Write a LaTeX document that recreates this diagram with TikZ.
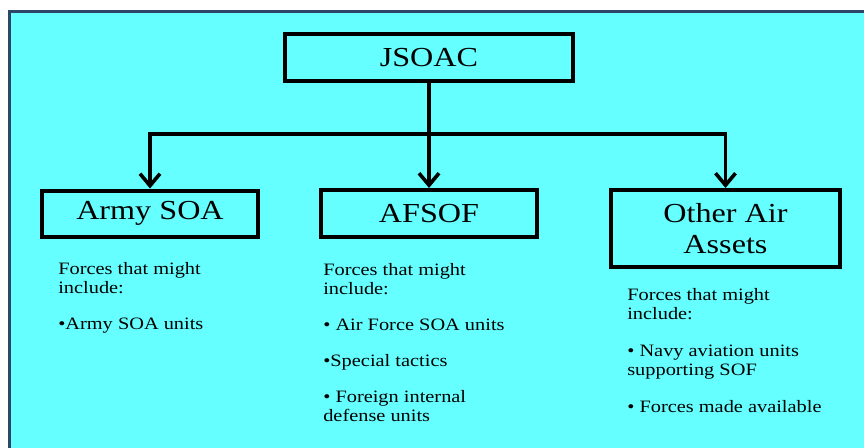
\documentclass[tikz,border=0pt]{standalone}
\usepackage{fontspec}
\setmainfont{Liberation Serif}[FakeStretch=1.17]
\usetikzlibrary{arrows.meta}
\definecolor{bgcyan}{RGB}{102,255,255}
\definecolor{framecol}{RGB}{46,70,104}
\tikzset{
  unitbox/.style = {draw=black, line width=4pt, align=center, inner sep=0pt,
    text centered, font=\fontsize{27.5}{31}\selectfont, minimum height=46pt},
  forcelist/.style = {align=left, anchor=north west, inner sep=0pt,
    font=\fontsize{17.4}{19}\selectfont},
}

\begin{document}
\begin{tikzpicture}[x=1pt,y=-1pt,>={Straight Barb[length=12pt,width=20pt]},
  line width=3.6pt]
\clip (0,0) rectangle (864,447);
\fill[white] (0,0) rectangle (864,447);
\draw[framecol, line width=3pt, fill=bgcyan] (9.5,11.5) rectangle (890,470);

\node [unitbox, minimum width=288pt, minimum height=47pt] (jsoac) at (429,57.5) {JSOAC};
\node [unitbox, minimum width=216pt] (army) at (150,213.5) {Army SOA};
\node [unitbox, minimum width=216pt, minimum height=47pt] (afsof) at (429,213.5) {AFSOF};
\node [unitbox, minimum width=229pt, minimum height=77pt] (other) at (725.5,228.5)
  {Other Air\\Assets};

\coordinate (bus) at (429,134);
\draw (jsoac.south) -- (bus);
\draw[->] (bus) -| (army.north);
\draw[->] (bus) -- (afsof.north);
\draw[->] (bus) -| (other.north);

\node [forcelist] (armylist) at (56.5,261) {Forces that might\\include:\\[17pt]
  •Army SOA units};
\node [forcelist] (afsoflist) at (321.5,262) {Forces that might\\include:\\[17pt]
  • Air Force SOA units\\[17pt]•Special tactics\\[17pt]• Foreign internal\\defense units};
\node [forcelist] (otherlist) at (625.5,287) {Forces that might\\include:\\[18pt]
  • Navy aviation units\\supporting SOF\\[18pt]• Forces made available};
\end{tikzpicture}
\end{document}
